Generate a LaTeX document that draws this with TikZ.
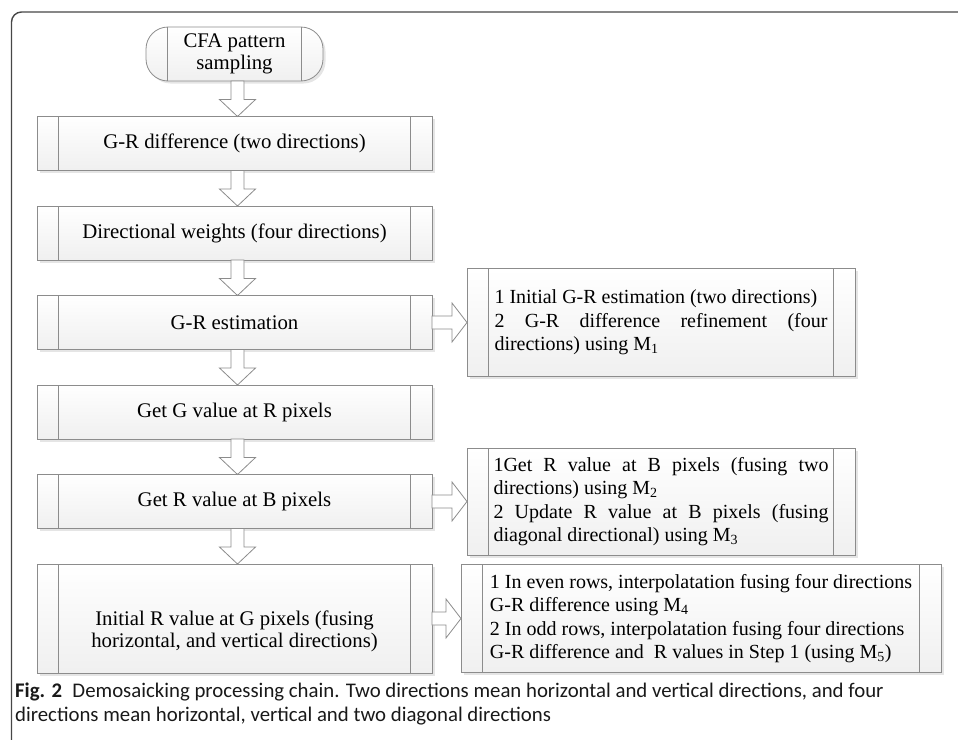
\documentclass[tikz,border=0pt]{standalone}
\usepackage{fontspec}
\setmainfont{Liberation Serif}
\newfontfamily\capfont{Carlito}
\usetikzlibrary{positioning, calc, shadows}

\tikzset{
  procbox/.style={draw=black!45, line width=0.8pt, top color=white, bottom color=black!6,
    drop shadow={shadow xshift=2.5pt, shadow yshift=-2.5pt, fill=black!10, opacity=1},
    minimum height=54pt, inner sep=0pt, outer sep=0pt, align=center,
    font=\fontsize{20.8}{22}\selectfont,
    path picture={\draw[black!45, line width=0.8pt]
      ([xshift=21.5pt]path picture bounding box.north west) -- ([xshift=21.5pt]path picture bounding box.south west)
      ([xshift=-21.5pt]path picture bounding box.north east) -- ([xshift=-21.5pt]path picture bounding box.south east);}},
  mainbox/.style={procbox, minimum width=395pt},
  notebox/.style={procbox, align=left, font=\fontsize{20}{23.5}\selectfont},
  flowarrow/.style={draw=black!45, line width=0.8pt, fill=white, line join=miter}
}

\begin{document}
\begin{tikzpicture}[x=1pt, y=-1pt, node distance=35.5pt]
  \useasboundingbox (0,0) rectangle (958,739);
  \begin{scope}
    \clip (0,0) rectangle (958,739);
    \draw[black!72, line width=1.4pt, rounded corners=10pt] (11.5,12) rectangle (990,780);
  \end{scope}

  % main chain
  \node[procbox, rounded corners=22pt, minimum width=177pt] (cfa) at (234.5,54) {CFA pattern\\sampling};
  \node[mainbox, below=of cfa] (grdiff) {G-R difference (two directions)};
  \node[mainbox, below=of grdiff] (dirw) {Directional weights (four directions)};
  \node[mainbox, below=of dirw] (grest) {G-R estimation};
  \node[mainbox, below=of grest] (getg) {Get G value at R pixels};
  \node[mainbox, below=of getg] (getr) {Get R value at B pixels};
  \node[mainbox, below=of getr, minimum height=109pt] (initr)
    {\raisebox{-14pt}[\height][\depth]{\begin{tabular}{@{}c@{}}Initial R value at G pixels (fusing\\horizontal, and vertical directions)\end{tabular}}};

  % side notes
  \node[notebox, right=35pt of grest, minimum width=388pt, minimum height=108pt] (grest-note)
    {1 Initial G-R estimation (two directions)\\
     \makebox[333pt][s]{2 G-R difference refinement (four}\\
     directions) using M\textsubscript{1}};
  \node[notebox, right=35pt of getr, minimum width=388pt, minimum height=107pt] (getr-note)
    {\makebox[335pt][s]{1Get R value at B pixels (fusing two}\\
     directions) using M\textsubscript{2}\\
     \makebox[335pt][s]{2 Update R value at B pixels (fusing}\\
     diagonal directional) using M\textsubscript{3}};
  \node[notebox, right=29pt of initr, minimum width=480pt, minimum height=108pt] (initr-note)
    {1 In even rows, interpolatation fusing four directions\\
     G-R difference using M\textsubscript{4}\\
     2 In odd rows, interpolatation fusing four directions\\
     G-R difference and~ R values in Step 1 (using M\textsubscript{5})};

  % block arrows
  \foreach \a/\b in {cfa/grdiff, grdiff/dirw, dirw/grest, grest/getg, getg/getr, getr/initr}
    \draw[flowarrow] let \p1=([xshift=3pt]\a.south), \p2=([xshift=3pt]\b.north) in
      (\x1-6.5pt,\y1) -- (\x1-6.5pt,\y2+17pt) -- (\x1-18pt,\y2+17pt) -- (\x2,\y2)
      -- (\x1+18pt,\y2+17pt) -- (\x1+6.5pt,\y2+17pt) -- (\x1+6.5pt,\y1) -- cycle;
  \foreach \a/\b in {grest/grest-note, getr/getr-note, initr/initr-note}
    \draw[flowarrow] let \p1=(\a.east), \p2=(\b.west) in
      (\x1,\y1-6.5pt) -- (\x2-15pt,\y1-6.5pt) -- (\x2-15pt,\y1-19.5pt) -- (\x2,\y1)
      -- (\x2-15pt,\y1+19.5pt) -- (\x2-15pt,\y1+6.5pt) -- (\x1,\y1+6.5pt) -- cycle;

  % caption
  \node[anchor=base west, inner sep=0pt, font=\capfont\fontsize{20.8}{24}\selectfont, text=black!90] (cap1) at (15,697)
    {\textbf{Fig. 2}\hspace{0.5em}Demosaicking processing chain. Two directions mean horizontal and vertical directions, and four};
  \node[anchor=base west, inner sep=0pt, font=\capfont\fontsize{20.8}{24}\selectfont, text=black!90] (cap2) at (15,721)
    {directions mean horizontal, vertical and two diagonal directions};
\end{tikzpicture}
\end{document}
